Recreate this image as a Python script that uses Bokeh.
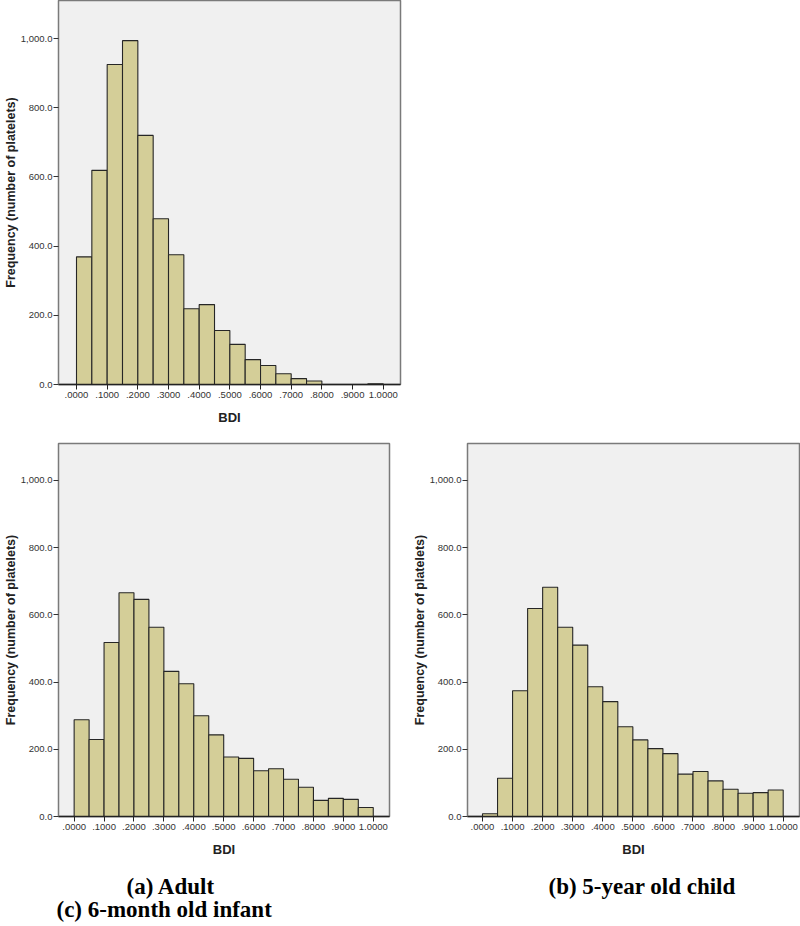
from bokeh.plotting import figure
from bokeh.models import Range1d, FixedTicker, Title
from bokeh.layouts import column, row
from bokeh.embed import file_html
from bokeh.resources import INLINE

# ---- data ----
bin_edges = [round(i * 0.05, 2) for i in range(21)]
top_counts = [369, 619, 925, 994, 720, 479, 375, 219, 231, 156,
              116, 72, 55, 31, 17, 10, 0, 0, 0, 2]
bottom_left_counts = [288, 229, 518, 666, 646, 563, 432, 395, 300, 243,
                      177, 173, 136, 142, 111, 87, 48, 54, 51, 27]
bottom_right_counts = [8, 114, 374, 619, 682, 563, 510, 386, 342, 267,
                       228, 202, 187, 126, 134, 106, 81, 69, 71, 79]
x_tick_values = [0.0, 0.1, 0.2, 0.3, 0.4, 0.5, 0.6, 0.7, 0.8, 0.9, 1.0]
x_tick_labels = [".0000", ".1000", ".2000", ".3000", ".4000", ".5000",
                 ".6000", ".7000", ".8000", ".9000", "1.0000"]
y_tick_values = [0, 200, 400, 600, 800, 1000]
y_tick_labels = ["0.0", "200.0", "400.0", "600.0", "800.0", "1,000.0"]
x_label = "BDI"
y_label = "Frequency (number of platelets)"
caption_a = "(a) Adult"
caption_b = "(b) 5-year old child"
caption_c = "(c) 6-month old infant"

BAR_FILL = "#D4CE98"
BAR_LINE = "#262626"
FRAME_BG = "#F0F0F0"


def make_hist(counts, width, height, bl, br, bt, bb, x0, x1):
    p = figure(width=width, height=height, output_backend="svg",
               toolbar_location=None, x_range=Range1d(x0, x1),
               y_range=Range1d(0, 1110),
               min_border_left=bl, min_border_right=br,
               min_border_top=bt, min_border_bottom=bb)
    p.background_fill_color = FRAME_BG
    p.border_fill_color = "white"
    p.outline_line_color = "#7a7a7a"
    p.outline_line_width = 1.5
    p.xgrid.visible = False
    p.ygrid.visible = False
    p.quad(left=bin_edges[:-1], right=bin_edges[1:], bottom=0, top=counts,
           fill_color=BAR_FILL, line_color=BAR_LINE, line_width=1.1)

    xa = p.xaxis[0]
    xa.ticker = FixedTicker(ticks=x_tick_values)
    xa.major_label_overrides = {v: s for v, s in zip(x_tick_values, x_tick_labels)}
    xa.minor_tick_line_color = None
    xa.major_tick_in = 0
    xa.major_tick_out = 5
    xa.major_tick_line_color = "#222222"
    xa.axis_line_color = "#222222"
    xa.axis_line_width = 1.5
    xa.major_label_text_font = "Liberation Sans"
    xa.major_label_text_font_size = "9.5px"
    xa.major_label_text_color = "#333333"
    xa.major_label_standoff = 2
    xa.axis_label = x_label
    xa.axis_label_text_font = "Liberation Sans"
    xa.axis_label_text_font_style = "bold"
    xa.axis_label_text_font_size = "13px"
    xa.axis_label_text_color = "#222222"
    xa.axis_label_standoff = 9

    ya = p.yaxis[0]
    ya.ticker = FixedTicker(ticks=y_tick_values)
    ya.major_label_overrides = {v: s for v, s in zip(y_tick_values, y_tick_labels)}
    ya.minor_tick_line_color = None
    ya.major_tick_in = 0
    ya.major_tick_out = 5
    ya.major_tick_line_color = "#333333"
    ya.axis_line_color = "#7a7a7a"
    ya.major_label_text_font = "Liberation Sans"
    ya.major_label_text_font_size = "9.5px"
    ya.major_label_text_color = "#333333"
    ya.major_label_standoff = 1
    ya.axis_label = y_label
    ya.axis_label_text_font = "Liberation Sans"
    ya.axis_label_text_font_style = "bold"
    ya.axis_label_text_font_size = "12.5px"
    ya.axis_label_text_color = "#222222"
    ya.axis_label_standoff = 0
    return p


def caption(text, offset, standoff, valign="bottom"):
    return Title(text=text, align="left", offset=offset, vertical_align=valign,
                 text_font="Liberation Serif", text_font_style="bold",
                 text_font_size="23px", text_color="black", standoff=standoff)


top = make_hist(top_counts, 402, 434, 58, 2, 0, 50, -0.0587, 1.0564)

bottom_left = make_hist(bottom_left_counts, 399, 490, 57, 10, 9, 108, -0.0523, 1.0543)
bottom_left.add_layout(caption(caption_a, 68, 24), "below")
bottom_left.add_layout(caption(caption_c, -2, -28, "top"), "below")

bottom_right = make_hist(bottom_right_counts, 401, 490, 68, 1, 9, 108, -0.0499, 1.0542)
bottom_right.add_layout(caption(caption_b, 81, 24), "below")

layout = column(top, row(bottom_left, bottom_right, spacing=0), spacing=0)

open("out.html", "w").write(file_html(layout, INLINE))
